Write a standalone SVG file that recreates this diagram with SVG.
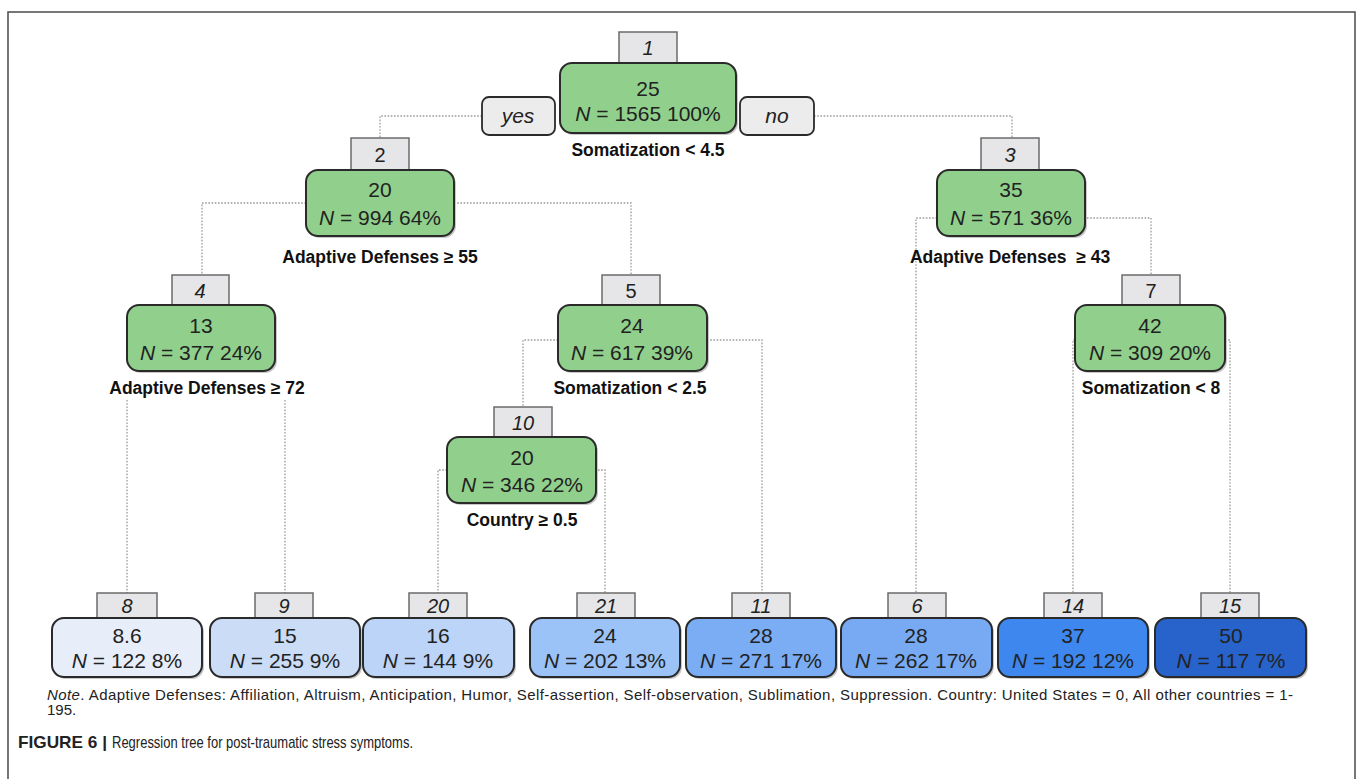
<svg xmlns="http://www.w3.org/2000/svg" width="1357" height="779" viewBox="0 0 1357 779">
<style>
.frame{fill:none;stroke:#555;stroke-width:1.6}
.conn{fill:none;stroke:#9a9a9a;stroke-width:1.3;stroke-dasharray:1.6 1.6}
.lab{fill:#e6e6e8;stroke:#6b6b6b;stroke-width:1.5}
.lt{font-family:"Liberation Sans",Arial,sans-serif;font-size:20px;fill:#222;text-anchor:middle}
.it{font-style:italic}
.nd{stroke:#2a2a2a;stroke-width:2}
.sh{fill:#c8c8c8}
.g{fill:#90d08c}
.nt{font-family:"Liberation Sans",Arial,sans-serif;font-size:21px;fill:#222;text-anchor:middle}
.sp{font-family:"Liberation Sans",Arial,sans-serif;font-size:17.5px;font-weight:bold;fill:#111;text-anchor:middle}
.yn{fill:#ececec;stroke:#2a2a2a;stroke-width:1.8}
.note{font-family:"Liberation Sans",Arial,sans-serif;font-size:15px;fill:#222}
.cap{font-family:"Liberation Sans",Arial,sans-serif;font-size:17px;fill:#222}
</style>
<rect x="0" y="0" width="1357" height="779" fill="#ffffff"/>
<rect class="frame" x="8" y="12" width="1347" height="800"/>

<g id="connectors">
<polyline class="conn" points="482,116 380,116 380,138"/>
<polyline class="conn" points="814,116 1012,116 1012,138"/>
<polyline class="conn" points="306,203 202,203 202,275"/>
<polyline class="conn" points="454,203 631,203 631,275"/>
<polyline class="conn" points="937,218 916,218 916,593"/>
<polyline class="conn" points="1087,218 1151,218 1151,275"/>
<line class="conn" x1="127" y1="400" x2="127" y2="593"/>
<line class="conn" x1="285" y1="400" x2="285" y2="593"/>
<polyline class="conn" points="558,340 523,340 523,407"/>
<polyline class="conn" points="707,340 762,340 762,593"/>
<polyline class="conn" points="447,470 438,470 438,593"/>
<polyline class="conn" points="598,470 605,470 605,593"/>
<polyline class="conn" points="1075,340 1073,340 1073,593"/>
<polyline class="conn" points="1225,340 1230,340 1230,593"/>
</g>

<g id="node1">
<rect class="lab" x="619" y="32" width="58" height="31"/>
<text class="lt it" x="648" y="55">1</text>
<rect class="sh" x="562" y="65" width="176" height="70" rx="12"/>
<rect class="nd g" x="560" y="63" width="176" height="70" rx="12"/>
<text class="nt" x="648" y="96">25</text>
<text class="nt" x="648" y="121"><tspan class="it">N</tspan> = 1565 100%</text>
<text class="sp" x="648" y="156">Somatization &lt; 4.5</text>
</g>
<g id="yes">
<rect class="yn" x="482" y="97" width="73" height="38" rx="7"/>
<text class="nt it" x="518" y="123">yes</text>
</g>
<g id="no">
<rect class="yn" x="740" y="97" width="74" height="38" rx="7"/>
<text class="nt it" x="777" y="123">no</text>
</g>

<g id="node2">
<rect class="lab" x="351" y="138" width="58" height="32"/>
<text class="lt" x="380" y="162">2</text>
<rect class="sh" x="308" y="172" width="148" height="66" rx="12"/>
<rect class="nd g" x="306" y="170" width="148" height="66" rx="12"/>
<text class="nt" x="380" y="197">20</text>
<text class="nt" x="380" y="225"><tspan class="it">N</tspan> = 994 64%</text>
<text class="sp" x="380" y="263">Adaptive Defenses ≥ 55</text>
</g>

<g id="node3">
<rect class="lab" x="981" y="138" width="58" height="32"/>
<text class="lt it" x="1010" y="162">3</text>
<rect class="sh" x="939" y="172" width="148" height="66" rx="12"/>
<rect class="nd g" x="937" y="170" width="148" height="66" rx="12"/>
<text class="nt" x="1011" y="197">35</text>
<text class="nt" x="1011" y="225"><tspan class="it">N</tspan> = 571 36%</text>
<text class="sp" x="1010" y="263" xml:space="preserve">Adaptive Defenses  ≥ 43</text>
</g>

<g id="node4">
<rect class="lab" x="172" y="275" width="57" height="30"/>
<text class="lt it" x="200" y="298">4</text>
<rect class="sh" x="129" y="307" width="148" height="66" rx="12"/>
<rect class="nd g" x="127" y="305" width="148" height="66" rx="12"/>
<text class="nt" x="201" y="333">13</text>
<text class="nt" x="201" y="360"><tspan class="it">N</tspan> = 377 24%</text>
<text class="sp" x="207" y="394">Adaptive Defenses ≥ 72</text>
</g>

<g id="node5">
<rect class="lab" x="602" y="275" width="58" height="30"/>
<text class="lt" x="631" y="298">5</text>
<rect class="sh" x="560" y="307" width="149" height="66" rx="12"/>
<rect class="nd g" x="558" y="305" width="149" height="66" rx="12"/>
<text class="nt" x="632" y="333">24</text>
<text class="nt" x="632" y="360"><tspan class="it">N</tspan> = 617 39%</text>
<text class="sp" x="630" y="394">Somatization &lt; 2.5</text>
</g>

<g id="node7">
<rect class="lab" x="1122" y="275" width="58" height="30"/>
<text class="lt" x="1151" y="298">7</text>
<rect class="sh" x="1077" y="307" width="150" height="66" rx="12"/>
<rect class="nd g" x="1075" y="305" width="150" height="66" rx="12"/>
<text class="nt" x="1150" y="333">42</text>
<text class="nt" x="1150" y="360"><tspan class="it">N</tspan> = 309 20%</text>
<text class="sp" x="1151" y="394">Somatization &lt; 8</text>
</g>

<g id="node10">
<rect class="lab" x="494" y="407" width="58" height="30"/>
<text class="lt it" x="523" y="430">10</text>
<rect class="sh" x="449" y="439" width="149" height="66" rx="12"/>
<rect class="nd g" x="447" y="437" width="149" height="66" rx="12"/>
<text class="nt" x="522" y="465">20</text>
<text class="nt" x="522" y="492"><tspan class="it">N</tspan> = 346 22%</text>
<text class="sp" x="522" y="526">Country ≥ 0.5</text>
</g>

<g id="leaf8">
<rect class="lab" x="97" y="593" width="60" height="25"/>
<text class="lt it" x="127" y="613">8</text>
<rect class="sh" x="54" y="620" width="150" height="59" rx="12"/>
<rect class="nd" fill="#e7eef9" x="52" y="618" width="150" height="59" rx="12"/>
<text class="nt" x="127" y="643">8.6</text>
<text class="nt" x="127" y="668"><tspan class="it">N</tspan> = 122 8%</text>
</g>
<g id="leaf9">
<rect class="lab" x="255" y="593" width="58" height="25"/>
<text class="lt it" x="284" y="613">9</text>
<rect class="sh" x="212" y="620" width="150" height="59" rx="12"/>
<rect class="nd" fill="#cbdcf6" x="210" y="618" width="150" height="59" rx="12"/>
<text class="nt" x="285" y="643">15</text>
<text class="nt" x="285" y="668"><tspan class="it">N</tspan> = 255 9%</text>
</g>
<g id="leaf20">
<rect class="lab" x="409" y="593" width="58" height="25"/>
<text class="lt it" x="438" y="613">20</text>
<rect class="sh" x="365" y="620" width="151" height="59" rx="12"/>
<rect class="nd" fill="#bcd4f7" x="363" y="618" width="151" height="59" rx="12"/>
<text class="nt" x="438" y="643">16</text>
<text class="nt" x="438" y="668"><tspan class="it">N</tspan> = 144 9%</text>
</g>
<g id="leaf21">
<rect class="lab" x="577" y="593" width="58" height="25"/>
<text class="lt it" x="606" y="613">21</text>
<rect class="sh" x="532" y="620" width="150" height="59" rx="12"/>
<rect class="nd" fill="#9cc3f7" x="530" y="618" width="150" height="59" rx="12"/>
<text class="nt" x="605" y="643">24</text>
<text class="nt" x="605" y="668"><tspan class="it">N</tspan> = 202 13%</text>
</g>
<g id="leaf11">
<rect class="lab" x="732" y="593" width="58" height="25"/>
<text class="lt it" x="761" y="613">11</text>
<rect class="sh" x="688" y="620" width="150" height="59" rx="12"/>
<rect class="nd" fill="#7aadf4" x="686" y="618" width="150" height="59" rx="12"/>
<text class="nt" x="761" y="643">28</text>
<text class="nt" x="761" y="668"><tspan class="it">N</tspan> = 271 17%</text>
</g>
<g id="leaf6">
<rect class="lab" x="888" y="593" width="58" height="25"/>
<text class="lt it" x="917" y="613">6</text>
<rect class="sh" x="843" y="620" width="151" height="59" rx="12"/>
<rect class="nd" fill="#77aaf2" x="841" y="618" width="151" height="59" rx="12"/>
<text class="nt" x="916" y="643">28</text>
<text class="nt" x="916" y="668"><tspan class="it">N</tspan> = 262 17%</text>
</g>
<g id="leaf14">
<rect class="lab" x="1044" y="593" width="58" height="25"/>
<text class="lt it" x="1073" y="613">14</text>
<rect class="sh" x="1000" y="620" width="150" height="59" rx="12"/>
<rect class="nd" fill="#3d87ee" x="998" y="618" width="150" height="59" rx="12"/>
<text class="nt" x="1073" y="643">37</text>
<text class="nt" x="1073" y="668"><tspan class="it">N</tspan> = 192 12%</text>
</g>
<g id="leaf15">
<rect class="lab" x="1201" y="593" width="58" height="25"/>
<text class="lt it" x="1230" y="613">15</text>
<rect class="sh" x="1157" y="620" width="151" height="59" rx="12"/>
<rect class="nd" fill="#2763cb" x="1155" y="618" width="151" height="59" rx="12"/>
<text class="nt" x="1231" y="643" fill="#1f2a44">50</text>
<text class="nt" x="1231" y="668" fill="#1f2a44"><tspan class="it">N</tspan> = 117 7%</text>
</g>

<g id="note">
<text class="note" x="47" y="700" textLength="1246" lengthAdjust="spacing"><tspan font-style="italic">Note</tspan>. Adaptive Defenses: Affiliation, Altruism, Anticipation, Humor, Self-assertion, Self-observation, Sublimation, Suppression. Country: United States = 0, All other countries = 1-</text>
<text class="note" x="47" y="715">195.</text>
</g>
<g id="caption">
<text class="cap" x="18" y="748" font-weight="bold" textLength="89" lengthAdjust="spacingAndGlyphs">FIGURE 6 |</text>
<text class="cap" x="112" y="748" textLength="301" lengthAdjust="spacingAndGlyphs">Regression tree for post-traumatic stress symptoms.</text>
</g>
</svg>
